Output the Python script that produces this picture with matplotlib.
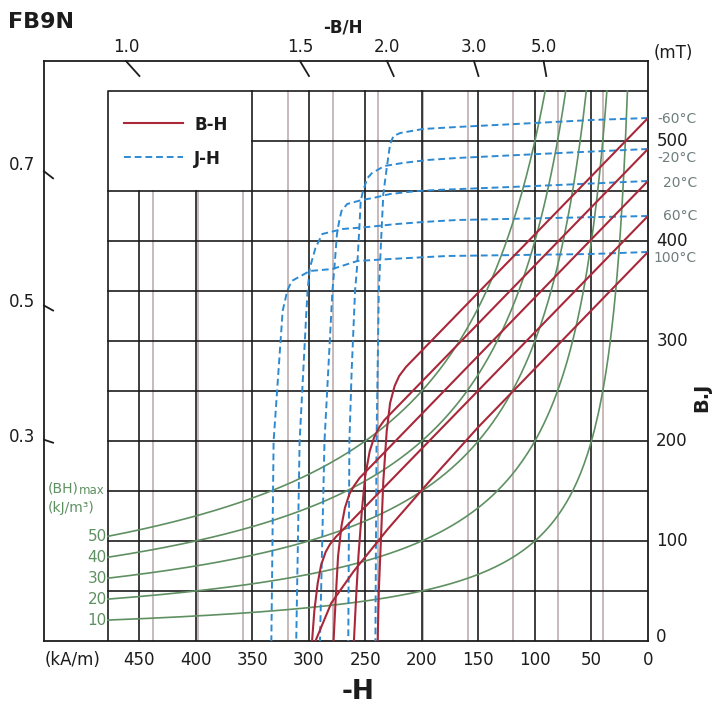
import matplotlib
matplotlib.use('Agg')
import matplotlib.pyplot as plt
from matplotlib.transforms import blended_transform_factory

MU0 = 1.2566  # mT per kA/m, used only for the -B/H tick marks

temps = ['-60°C', '-20°C', '20°C', '60°C', '100°C']

# J-H curves (H in kA/m, J in mT)
j_h_m60 = [0, 50, 100, 169, 199, 219, 225, 228, 231, 234, 236, 238, 240, 241]
j_m60 = [523, 521, 518, 514, 512, 508, 505, 497, 473, 447, 400, 350, 200, 0]
j_h_m20 = [0, 78, 169, 195, 217, 233, 244, 248, 252, 254, 255, 257, 259, 262, 264, 265]
j_m20 = [492, 488, 483, 481, 478, 475, 468, 463, 450, 440, 417, 377, 350, 270, 200, 0]
j_h_20 = [0, 100, 187, 204, 228, 243, 253, 266, 271, 273, 275, 277, 279, 286, 290]
j_20 = [460, 455, 451, 450, 447, 443, 441, 437, 430, 420, 407, 377, 350, 200, 0]
j_h_60 = [0, 169, 199, 222, 248, 270, 288, 294, 299, 301, 302, 308, 311]
j_60 = [425, 421, 419, 417, 414, 412, 407, 393, 373, 350, 330, 200, 0]
j_h_100 = [0, 50, 178, 228, 257, 279, 299, 315, 319, 323, 331, 333]
j_100 = [389, 387, 385, 382, 380, 372, 370, 360, 350, 330, 200, 0]

# B-H curves (H in kA/m, B in mT)
b_h_m60 = [0, 214, 220, 224, 228, 231, 234, 236, 238, 239]
b_m60 = [523, 274, 265, 255, 238, 210, 160, 105, 50, 0]
b_h_m20 = [0, 233, 238, 242, 246, 250, 253, 256, 258, 260]
b_m20 = [492, 221, 213, 204, 190, 165, 130, 85, 45, 0]
b_h_20 = [0, 255, 260, 264, 268, 271, 274, 276, 278]
b_20 = [460, 163, 155, 147, 133, 115, 85, 45, 0]
b_h_60 = [0, 276, 281, 285, 289, 292, 295, 297]
b_60 = [425, 104, 97, 89, 76, 58, 30, 0]
b_h_100 = [0, 150, 193, 230, 260, 280, 294]
b_100 = [389, 214, 160, 112, 70, 38, 0]

bhmax_levels = [10, 20, 30, 40, 50]          # kJ/m3
permeance_top = ['1.0', '1.5', '2.0', '3.0', '5.0']
permeance_left = ['0.7', '0.5', '0.3']
h_ticks = [450, 400, 350, 300, 250, 200, 150, 100, 50, 0]
b_ticks = [500, 400, 300, 200, 100]

j_curves = [(j_h_m60, j_m60), (j_h_m20, j_m20), (j_h_20, j_20), (j_h_60, j_60), (j_h_100, j_100)]
b_curves = [(b_h_m60, b_m60), (b_h_m20, b_m20), (b_h_20, b_20), (b_h_60, b_60), (b_h_100, b_100)]

RED = '#a8283a'
BLUE = '#2d8ad2'
GREEN = '#5f9062'
GRAY = '#c4b4b4'
INK = '#1c1c1c'

W, HGT = 716, 709
fig = plt.figure(figsize=(W / 100, HGT / 100), dpi=100)
ax = fig.add_axes([44 / W, (HGT - 641) / HGT, 604 / W, 580 / HGT])
ax.set_xlim(534, 0)
ax.set_ylim(0, 580)
ax.set_xticks([])
ax.set_yticks([])
for s in ax.spines.values():
    s.set_linewidth(1.3)
    s.set_color(INK)

H_IN, B_IN = 477.5, 550   # inner frame (6 kOe x 5.5 kG)
H_LEG, B_LEG = 350, 450   # legend box corner

# gray grid every 0.5 kOe
for k in range(1, 12):
    h = k * 39.789
    top = B_LEG if h > H_LEG else B_IN
    ax.plot([h, h], [0, top], color=GRAY, lw=1.3, zorder=1)
# black grid
for h in range(50, 451, 50):
    top = B_LEG if h > H_LEG else B_IN
    ax.plot([h, h], [0, top], color=INK, lw=1.2, zorder=1.2)
for b in range(50, 501, 50):
    left = H_LEG if b > B_LEG else H_IN
    ax.plot([0, left], [b, b], color=INK, lw=1.2, zorder=1.2)
ax.plot([H_IN, H_IN, 0], [0, B_IN, B_IN], color=INK, lw=1.2, zorder=1.2)

# (BH)max hyperbolas
for e in bhmax_levels:
    h0 = e * 1000 / B_IN
    hs = [h0 + i * (H_IN - h0) / 300 for i in range(301)]
    ax.plot(hs, [e * 1000 / h for h in hs], color=GREEN, lw=1.2, zorder=2)

for h, j in j_curves:
    ax.plot(h, j, color=BLUE, lw=1.4, ls=(0, (3.5, 2)), zorder=3)
for h, b in b_curves:
    ax.plot(h, b, color=RED, lw=1.5, zorder=4)

# permeance ticks (-B/H)
for p in permeance_top:
    pv = float(p)
    ax.plot([580 / (pv * MU0), 565 / (pv * MU0)], [580, 565], color=INK, lw=1.3, clip_on=False, zorder=5)
for p in permeance_left:
    pv = float(p)
    ax.plot([534, 526], [pv * MU0 * 534, pv * MU0 * 526], color=INK, lw=1.3, clip_on=False, zorder=5)

# legend
ax.plot([463, 411], [518, 518], color=RED, lw=1.5)
ax.plot([463, 411], [484, 484], color=BLUE, lw=1.4, ls=(0, (3.5, 2)))


def px(x, y, s, **kw):
    fig.text(x / W, 1 - y / HGT, s, **kw)


kw = dict(fontsize=12, color=INK, va='center')
px(8, 22, 'FB9N', fontsize=16, fontweight='bold', va='center', color=INK)
px(343, 27, '-B/H', fontsize=12, fontweight='bold', ha='center', va='center', color=INK)
px(194, 125, 'B-H', fontsize=12, fontweight='bold', va='center', color=INK)
px(194, 159, 'J-H', fontsize=12, fontweight='bold', va='center', color=INK)

tx = blended_transform_factory(ax.transData, fig.transFigure)
for p in permeance_top:
    pv = float(p)
    ax.text(580 / (pv * MU0), 1 - 47 / HGT, p, transform=tx, ha='center', **kw)
px(673, 53, '(mT)', ha='center', **kw)
for p, y in zip(permeance_left, [165, 302, 437]):
    px(22, y, p, ha='center', **kw)

for h in h_ticks:
    ax.text(h, 1 - 660 / HGT, str(h), transform=tx, ha='center', **kw)
px(73, 660, '(kA/m)', ha='center', **kw)
px(358, 692, '-H', fontsize=19, fontweight='bold', ha='center', va='center', color=INK)

ty = blended_transform_factory(fig.transFigure, ax.transData)
for b in b_ticks:
    ax.text(672 / W, b, str(b), transform=ty, ha='center', **kw)
px(661, 637, '0', ha='center', **kw)
px(702, 397, 'B.J', fontsize=14, fontweight='bold', rotation=90, ha='center', va='center', color=INK)

for t, y in zip(temps, [119, 158, 183, 216, 258]):
    px(697, y, t, fontsize=10, color='#6f7d7d', ha='right', va='center')

px(48, 488, '(BH)', fontsize=10, color=GREEN, va='center')
px(79, 490, 'max', fontsize=8.5, color=GREEN, va='center')
px(48, 508, '(kJ/m³)', fontsize=10, color=GREEN, va='center')
for e in bhmax_levels:
    ax.text(107 / W, e * 1000 / H_IN, str(e), transform=ty, ha='right', va='center', fontsize=11, color=GREEN)

fig.savefig('out.png', dpi=100)
